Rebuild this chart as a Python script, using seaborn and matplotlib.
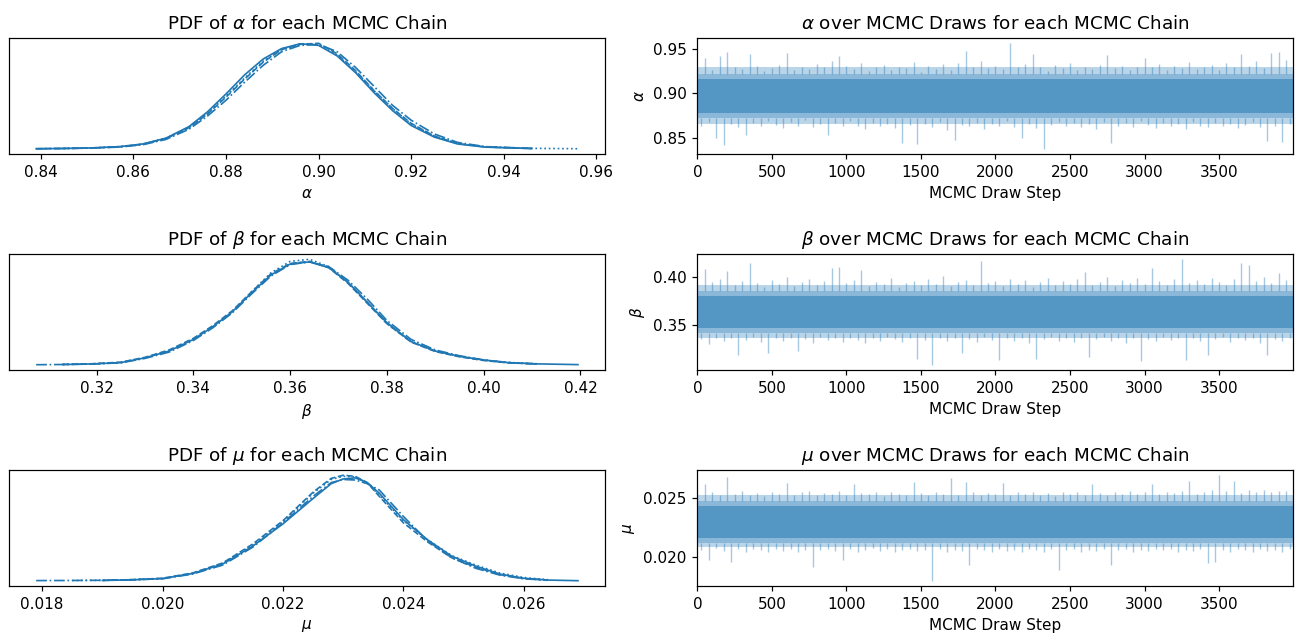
import numpy as np
import pandas as pd
import matplotlib
matplotlib.use("Agg")
import matplotlib.pyplot as plt
import seaborn as sns

# ---- data ----
symbols = [r"$\alpha$", r"$\beta$", r"$\mu$"]
chain_dashes = ["", (3.7, 1.6), (1, 1.65), (6.4, 1.6, 1, 1.6)]

# PDF curves: value grid + relative density per chain (None = outside chain range)
alpha_grid = [0.839, 0.845, 0.851, 0.857, 0.862, 0.867, 0.872, 0.876, 0.880, 0.884, 0.888, 0.892,
              0.896, 0.900, 0.904, 0.908, 0.912, 0.916, 0.920, 0.925, 0.930, 0.936, 0.946, 0.956]
alpha_pdf = [
    [0.0, 0.003, 0.008, 0.02, 0.045, 0.10, 0.21, 0.35, 0.52, 0.70, 0.85, 0.95,
     0.995, 0.98, 0.88, 0.72, 0.53, 0.36, 0.22, 0.11, 0.045, 0.015, 0.002, None],
    [0.0, 0.003, 0.007, 0.018, 0.042, 0.095, 0.20, 0.33, 0.49, 0.66, 0.82, 0.94,
     0.99, 1.0, 0.90, 0.74, 0.55, 0.38, 0.24, 0.12, 0.05, 0.017, 0.002, None],
    [None, 0.002, 0.008, 0.02, 0.044, 0.10, 0.20, 0.33, 0.50, 0.67, 0.83, 0.94,
     0.995, 0.99, 0.89, 0.73, 0.55, 0.38, 0.235, 0.12, 0.05, 0.017, 0.004, 0.0],
    [0.0, 0.002, 0.006, 0.016, 0.038, 0.088, 0.185, 0.31, 0.46, 0.63, 0.79, 0.92,
     0.98, 0.99, 0.92, 0.77, 0.59, 0.41, 0.27, 0.14, 0.06, 0.02, 0.003, None],
]

beta_grid = [0.3075, 0.313, 0.319, 0.325, 0.330, 0.335, 0.340, 0.344, 0.348, 0.352, 0.356, 0.360,
             0.364, 0.368, 0.372, 0.376, 0.380, 0.385, 0.390, 0.395, 0.400, 0.405, 0.411, 0.4195]
beta_pdf = [
    [None, 0.002, 0.007, 0.02, 0.065, 0.13, 0.24, 0.36, 0.50, 0.68, 0.85, 0.955,
     0.975, 0.92, 0.78, 0.59, 0.40, 0.22, 0.13, 0.08, 0.045, 0.02, 0.008, 0.001],
    [None, 0.003, 0.009, 0.024, 0.07, 0.14, 0.25, 0.37, 0.51, 0.69, 0.86, 0.96,
     0.98, 0.92, 0.77, 0.58, 0.39, 0.215, 0.125, 0.075, 0.04, 0.018, 0.007, None],
    [None, 0.002, 0.008, 0.021, 0.066, 0.13, 0.24, 0.355, 0.50, 0.69, 0.87, 0.98,
     1.0, 0.93, 0.78, 0.59, 0.39, 0.215, 0.13, 0.08, 0.045, 0.022, 0.009, None],
    [0.0, 0.002, 0.006, 0.018, 0.06, 0.12, 0.23, 0.35, 0.49, 0.67, 0.84, 0.95,
     0.975, 0.93, 0.80, 0.62, 0.42, 0.24, 0.14, 0.085, 0.045, 0.02, 0.007, None],
]

mu_grid = [0.0179, 0.0185, 0.0190, 0.0195, 0.0200, 0.0205, 0.0210, 0.0215, 0.0220, 0.0225, 0.0228, 0.0230,
           0.0232, 0.0234, 0.0236, 0.0240, 0.0244, 0.0248, 0.0252, 0.0256, 0.0260, 0.0264, 0.0269]
mu_pdf = [
    [None, None, 0.004, 0.010, 0.022, 0.07, 0.16, 0.33, 0.54, 0.78, 0.92, 0.965,
     0.975, 0.93, 0.83, 0.58, 0.39, 0.235, 0.14, 0.065, 0.025, 0.008, 0.002],
    [None, None, 0.005, 0.012, 0.025, 0.075, 0.17, 0.35, 0.57, 0.84, 0.97, 1.0,
     0.99, 0.93, 0.80, 0.55, 0.37, 0.22, 0.13, 0.06, 0.022, 0.007, None],
    [None, 0.004, 0.006, 0.011, 0.024, 0.072, 0.165, 0.34, 0.56, 0.83, 0.96, 0.99,
     0.985, 0.93, 0.81, 0.57, 0.39, 0.24, 0.15, 0.075, 0.032, 0.012, None],
    [0.003, 0.004, 0.006, 0.011, 0.02, 0.065, 0.15, 0.32, 0.55, 0.80, 0.93, 0.96,
     0.955, 0.92, 0.86, 0.61, 0.38, 0.22, 0.12, 0.055, 0.02, 0.006, None],
]

# traces: high / low extremes in each block of 50 draws, plus the dense bands
n_draws = 4000
block = 50
alpha_hi = [0.930, 0.940, 0.926, 0.942, 0.946, 0.929, 0.927, 0.944, 0.931, 0.925,
            0.928, 0.932, 0.945, 0.926, 0.930, 0.927, 0.933, 0.929, 0.936, 0.942,
            0.931, 0.927, 0.934, 0.925, 0.929, 0.932, 0.926, 0.930, 0.928, 0.935,
            0.924, 0.931, 0.927, 0.933, 0.926, 0.934, 0.947, 0.930, 0.936, 0.928,
            0.931, 0.927, 0.956, 0.929, 0.933, 0.944, 0.930, 0.925, 0.932, 0.928,
            0.934, 0.926, 0.930, 0.927, 0.932, 0.943, 0.928, 0.931, 0.926, 0.930,
            0.940, 0.929, 0.933, 0.926, 0.931, 0.928, 0.935, 0.927, 0.930, 0.932,
            0.926, 0.934, 0.929, 0.944, 0.931, 0.936, 0.928, 0.945, 0.946, 0.937]
alpha_lo = [0.864, 0.868, 0.850, 0.842, 0.866, 0.862, 0.853, 0.867, 0.863, 0.869,
            0.865, 0.861, 0.868, 0.864, 0.870, 0.862, 0.866, 0.853, 0.867, 0.863,
            0.869, 0.864, 0.860, 0.867, 0.863, 0.866, 0.861, 0.844, 0.865, 0.843,
            0.866, 0.862, 0.868, 0.859, 0.848, 0.865, 0.863, 0.867, 0.860, 0.866,
            0.864, 0.869, 0.862, 0.850, 0.866, 0.861, 0.838, 0.865, 0.868, 0.863,
            0.867, 0.862, 0.866, 0.860, 0.868, 0.844, 0.864, 0.867, 0.862, 0.869,
            0.865, 0.861, 0.867, 0.863, 0.866, 0.860, 0.868, 0.864, 0.862, 0.867,
            0.863, 0.866, 0.861, 0.865, 0.868, 0.862, 0.847, 0.864, 0.845, 0.866]
alpha_bands = [(0.866, 0.929), (0.872, 0.922), (0.878, 0.916)]

beta_hi = [0.393, 0.409, 0.395, 0.398, 0.407, 0.392, 0.396, 0.415, 0.394, 0.390,
           0.397, 0.393, 0.400, 0.391, 0.395, 0.398, 0.392, 0.396, 0.410, 0.411,
           0.394, 0.397, 0.408, 0.391, 0.395, 0.393, 0.399, 0.390, 0.394, 0.396,
           0.392, 0.398, 0.393, 0.401, 0.391, 0.395, 0.397, 0.392, 0.417, 0.394,
           0.396, 0.391, 0.398, 0.393, 0.397, 0.390, 0.395, 0.399, 0.392, 0.396,
           0.393, 0.398, 0.406, 0.392, 0.395, 0.400, 0.391, 0.397, 0.394, 0.399,
           0.393, 0.410, 0.396, 0.392, 0.398, 0.419, 0.394, 0.397, 0.393, 0.399,
           0.395, 0.392, 0.398, 0.415, 0.413, 0.396, 0.400, 0.394, 0.405, 0.397]
beta_lo = [0.335, 0.330, 0.337, 0.333, 0.336, 0.319, 0.334, 0.338, 0.332, 0.321,
           0.336, 0.333, 0.337, 0.323, 0.335, 0.331, 0.338, 0.334, 0.336, 0.332,
           0.337, 0.334, 0.331, 0.336, 0.333, 0.338, 0.335, 0.332, 0.337, 0.315,
           0.334, 0.3085, 0.336, 0.333, 0.337, 0.321, 0.335, 0.332, 0.338, 0.334,
           0.313, 0.336, 0.333, 0.337, 0.331, 0.315, 0.335, 0.338, 0.333, 0.336,
           0.332, 0.337, 0.317, 0.335, 0.338, 0.333, 0.336, 0.331, 0.337, 0.3126,
           0.335, 0.333, 0.338, 0.334, 0.336, 0.313, 0.337, 0.333, 0.319, 0.335,
           0.338, 0.332, 0.336, 0.334, 0.337, 0.331, 0.319, 0.335, 0.333, 0.336]
beta_bands = [(0.337, 0.392), (0.342, 0.386), (0.347, 0.380)]

mu_hi = [0.02530, 0.02617, 0.02545, 0.02520, 0.02678, 0.02535, 0.02555, 0.02525, 0.02540, 0.02515,
         0.02550, 0.02530, 0.02628, 0.02520, 0.02545, 0.02560, 0.02525, 0.02540, 0.02535, 0.02555,
         0.02520, 0.02617, 0.02540, 0.02530, 0.02550, 0.02515, 0.02545, 0.02535, 0.02525, 0.02637,
         0.02540, 0.02520, 0.02550, 0.02530, 0.02664, 0.02525, 0.02637, 0.02545, 0.02520, 0.02540,
         0.02530, 0.02628, 0.02520, 0.02545, 0.02535, 0.02550, 0.02525, 0.02540, 0.02515, 0.02545,
         0.02530, 0.02550, 0.02525, 0.02617, 0.02540, 0.02520, 0.02545, 0.02535, 0.02555, 0.02530,
         0.02545, 0.02617, 0.02530, 0.02550, 0.02540, 0.02560, 0.02645, 0.02535, 0.02550, 0.02570,
         0.02691, 0.02555, 0.02645, 0.02540, 0.02565, 0.02550, 0.02570, 0.02545, 0.02560, 0.02555]
mu_lo = [0.02060, 0.01973, 0.02075, 0.02050, 0.01960, 0.02065, 0.02045, 0.02070, 0.02055, 0.02040,
         0.02065, 0.02050, 0.02070, 0.02045, 0.02060, 0.01913, 0.02055, 0.02070, 0.02050, 0.01970,
         0.02065, 0.02045, 0.02060, 0.02075, 0.02050, 0.02065, 0.02040, 0.02060, 0.02070, 0.02050,
         0.02055, 0.01798, 0.02065, 0.02045, 0.02060, 0.02050, 0.01934, 0.02070, 0.02055, 0.02045,
         0.02065, 0.02050, 0.02060, 0.02045, 0.02070, 0.02055, 0.02040, 0.02065, 0.01890, 0.02055,
         0.02070, 0.02045, 0.02060, 0.02050, 0.02065, 0.01934, 0.02055, 0.02070, 0.02045, 0.02060,
         0.02050, 0.02065, 0.02055, 0.02070, 0.02045, 0.02060, 0.02050, 0.02065, 0.01950, 0.01960,
         0.02060, 0.02045, 0.02070, 0.02055, 0.02040, 0.02065, 0.02050, 0.02060, 0.02045, 0.02070]
mu_bands = [(0.0208, 0.0252), (0.0212, 0.0247), (0.0216, 0.0243)]


def pdf_frame(grid, curves):
    rows = []
    for chain, dens in enumerate(curves):
        for x, y in zip(grid, dens):
            if y is not None:
                rows.append((chain, x, y))
    return pd.DataFrame(rows, columns=["chain", "value", "density"])


fig, axes = plt.subplots(3, 2, figsize=(1296 / 110, 639 / 110), dpi=110)
fig.subplots_adjust(left=0.007, right=0.998, bottom=0.083, top=0.9405, wspace=0.155, hspace=0.862)

pdf_sets = [(alpha_grid, alpha_pdf), (beta_grid, beta_pdf), (mu_grid, mu_pdf)]
trace_sets = [(alpha_hi, alpha_lo, alpha_bands), (beta_hi, beta_lo, beta_bands), (mu_hi, mu_lo, mu_bands)]
band_alpha = [0.3, 0.3, 0.5]

for i, sym in enumerate(symbols):
    ax = axes[i, 0]
    df = pdf_frame(*pdf_sets[i])
    sns.lineplot(data=df, x="value", y="density", style="chain", dashes=chain_dashes,
                 color="C0", lw=1.1, estimator=None, legend=False, ax=ax)
    ax.set_yticks([])
    ax.set_ylabel("")
    ax.set_xlabel(sym)
    ax.set_title(f"PDF of {sym} for each MCMC Chain")

    ax = axes[i, 1]
    hi, lo, bands = trace_sets[i]
    steps = np.arange(len(hi)) * block
    for (b_lo, b_hi), a in zip(bands, band_alpha):
        ax.fill_between([0, n_draws - 1], b_lo, b_hi, color="C0", alpha=a, lw=0)
    # spikes poke out of the dense core
    mid_lo, mid_hi = bands[1]
    ax.vlines(steps, mid_hi, hi, color="C0", alpha=0.4, lw=0.9)
    ax.vlines(steps + block / 2, lo, mid_lo, color="C0", alpha=0.4, lw=0.9)
    ax.set_xlim(0, n_draws - 1)
    ax.set_xlabel("MCMC Draw Step")
    ax.set_ylabel(sym)
    ax.set_title(f"{sym} over MCMC Draws for each MCMC Chain")

fig.savefig("out.png", dpi=110)
